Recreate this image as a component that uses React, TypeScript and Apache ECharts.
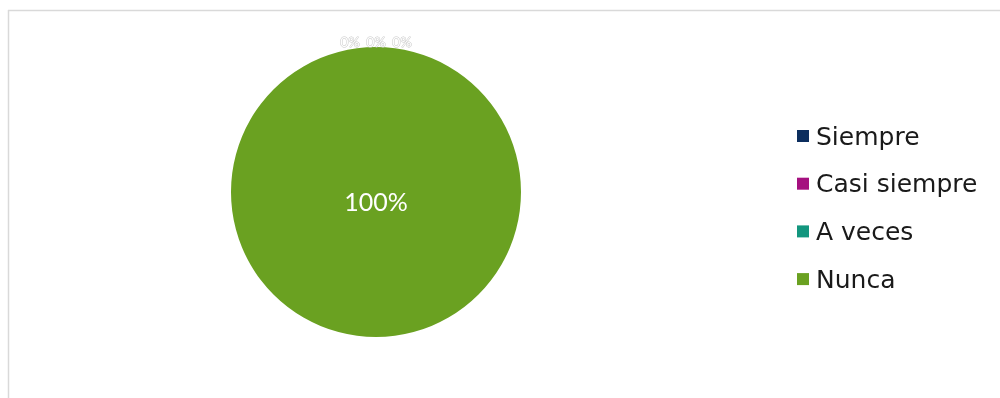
import React, { useEffect, useRef } from "react";
import * as echarts from "echarts";

const categories = ["Siempre", "Casi siempre", "A veces", "Nunca"];
const values = [0, 0, 0, 100];
const colors = ["#0c2e5e", "#a5107f", "#13967e", "#6aa121"];
const zeroOffsets = [-26, 0, 26];

export default function App() {
  const ref = useRef<HTMLDivElement>(null);
  useEffect(() => {
    const chart = echarts.init(ref.current!, undefined, { renderer: "svg" });
    chart.setOption({
      animation: false,
      color: colors,
      graphic: [
        { type: "line", shape: { x1: 8, y1: 10.5, x2: 1000, y2: 10.5 }, style: { stroke: "#d9d9d9", lineWidth: 1.5 } },
        { type: "line", shape: { x1: 8.5, y1: 10, x2: 8.5, y2: 398 }, style: { stroke: "#d9d9d9", lineWidth: 1.5 } },
      ],
      legend: {
        orient: "vertical",
        left: 792,
        top: 118.5,
        itemWidth: 12,
        itemHeight: 12,
        itemGap: 22.7,
        icon: "rect",
        textStyle: {
          fontFamily: "DejaVu Sans",
          fontSize: 25,
          color: "#1a1a1a",
          lineHeight: 25,
          padding: [0, 0, 0, 2],
        },
        data: categories,
      },
      series: [
        {
          type: "pie",
          center: [376, 192],
          radius: [0, 145],
          startAngle: 90,
          clockwise: true,
          stillShowZeroSum: true,
          avoidLabelOverlap: false,
          labelLine: { show: false },
          label: {
            show: true,
            position: "inside",
            formatter: "{d}%",
            color: "#ffffff",
            fontFamily: "Lato",
            fontSize: 25,
          },
          labelLayout: (p: any) => {
            const i = p.dataIndex;
            if (values[i] === 0) return { dx: zeroOffsets[i] ?? 0, dy: -75 };
            return { dy: 9 };
          },
          data: categories.map((c, i) => ({
            name: c,
            value: values[i],
            label:
              values[i] === 0
                ? { fontSize: 14, formatter: "0%", textBorderColor: "#c8c8c8", textBorderWidth: 1 }
                : { position: "center", formatter: "{d}%" },
          })),
        },
      ],
    });
    return () => chart.dispose();
  }, []);
  return <div ref={ref} style={{ position: "fixed", left: 0, top: 0, width: 1000, height: 398 }} />;
}
